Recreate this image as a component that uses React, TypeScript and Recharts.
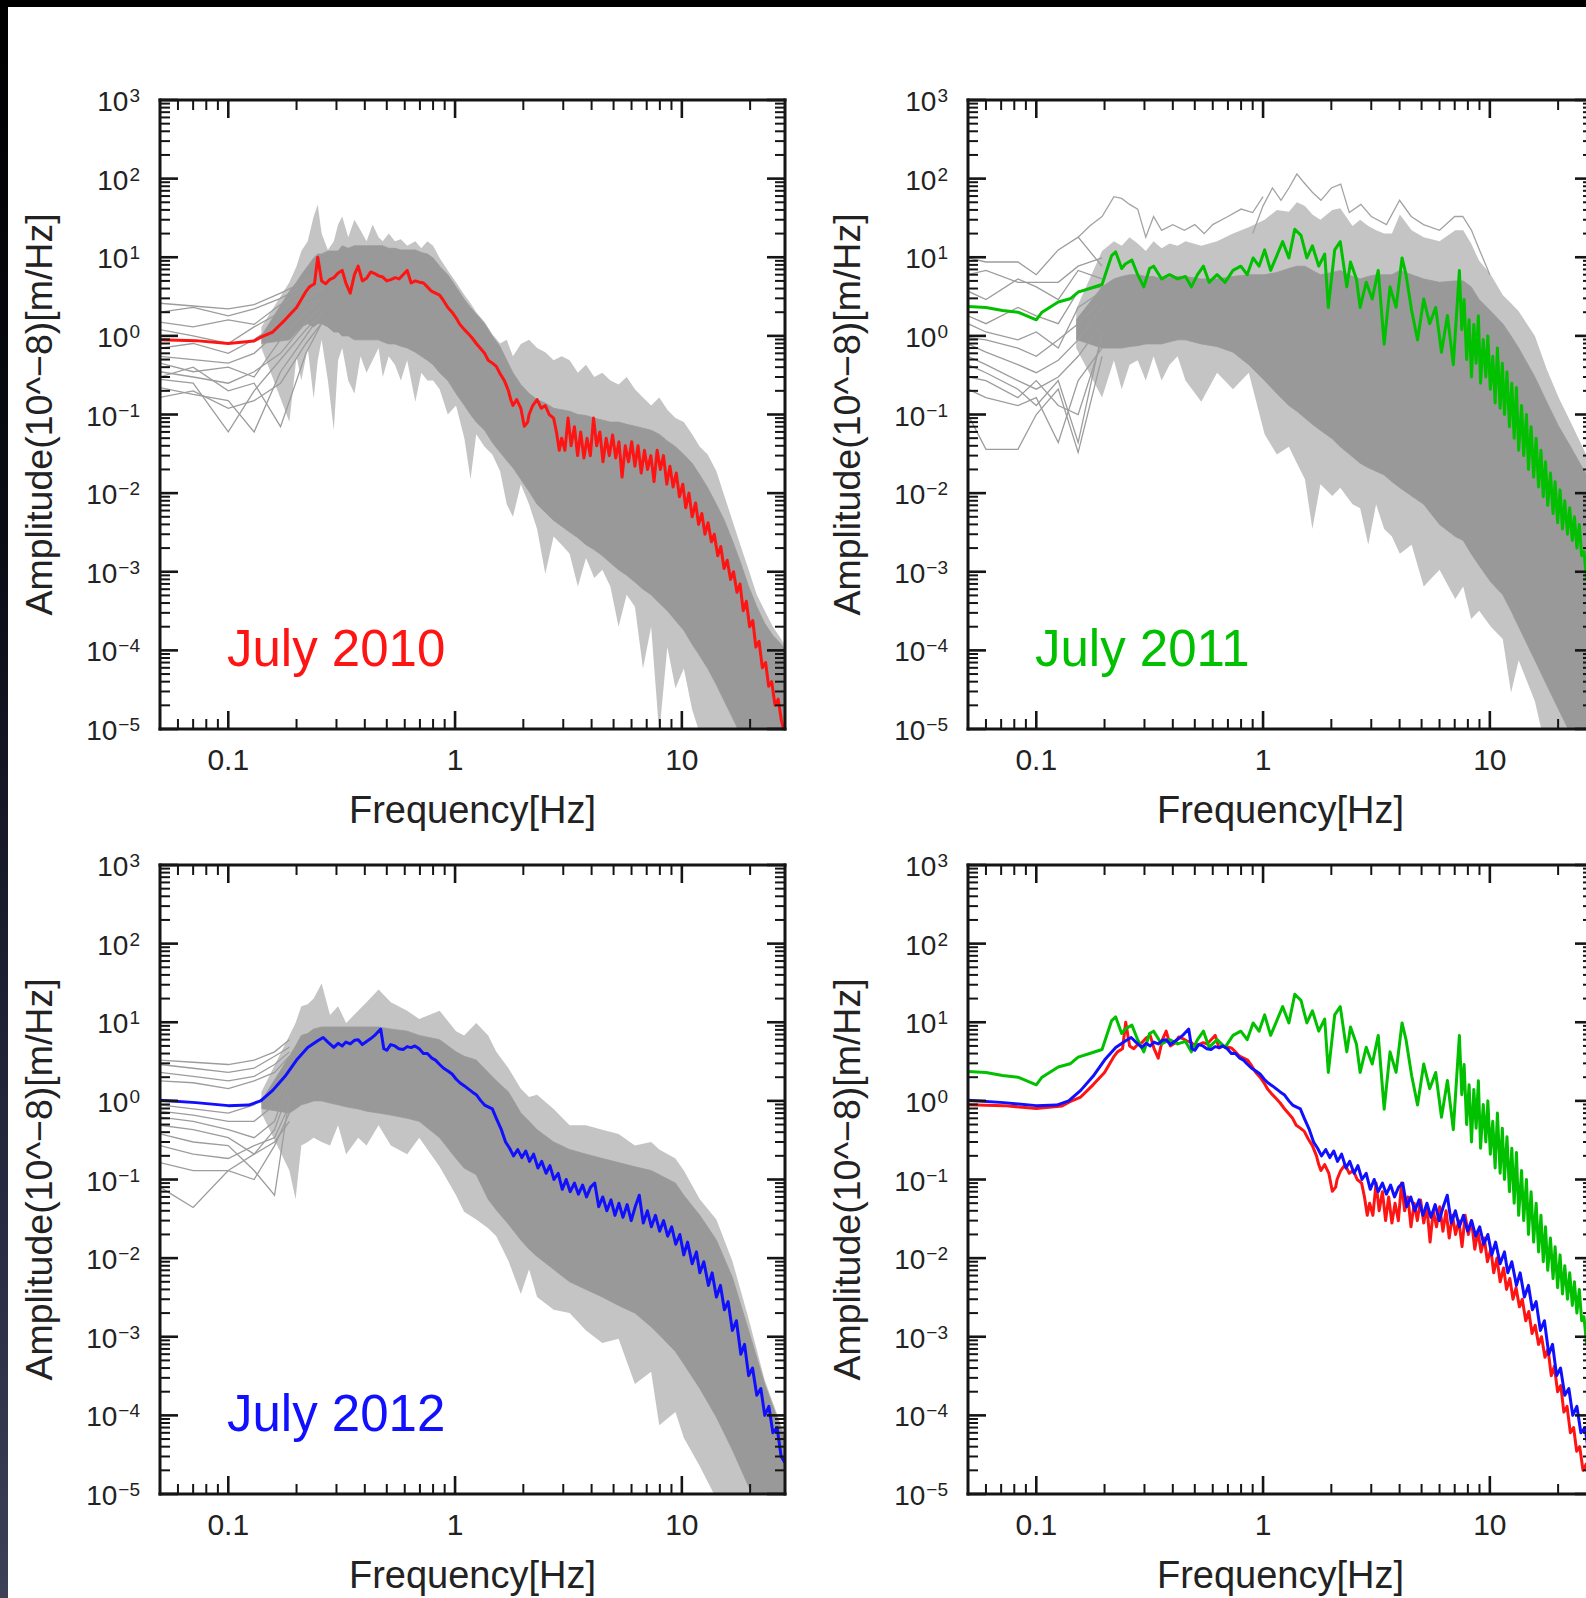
import React from 'react';
import { ComposedChart, Line, Area, XAxis, YAxis } from 'recharts';

// ---- axis ticks ----
const xMajor = [0.1, 1, 10];
const xTicks = [0.06, 0.07, 0.08, 0.09, 0.1, 0.2, 0.3, 0.4, 0.5, 0.6, 0.7, 0.8, 0.9, 1, 2, 3, 4, 5, 6, 7, 8, 9, 10, 20];
const yDecades = [1e-5, 1e-4, 1e-3, 1e-2, 1e-1, 1, 10, 100, 1000];
const yMinorSteps = [2, 3, 4, 5, 6, 7, 8, 9];
const yTicks = yDecades.flatMap((d, i) => (i < yDecades.length - 1 ? [d, ...yMinorSteps.map((m) => m * d)] : [d]));

// ---- July 2010 (red) : [Hz, amplitude] ----
const red2010 = [
  [0.05, 0.89], [0.072, 0.87], [0.1, 0.8], [0.13, 0.86], [0.14, 0.97], [0.157, 1.12], [0.178, 1.6], [0.2, 2.3],
  [0.219, 3.6], [0.228, 4.2], [0.24, 4.6], [0.248, 10], [0.258, 5.0], [0.269, 4.6], [0.28, 5.2], [0.292, 5.5],
  [0.305, 6.3], [0.318, 6.8], [0.33, 4.7], [0.345, 3.5], [0.36, 6.0], [0.374, 7.7], [0.39, 5.0], [0.407, 5.4],
  [0.425, 6.5], [0.442, 6.2], [0.46, 5.8], [0.48, 5.6], [0.5, 5.0], [0.521, 5.2], [0.545, 5.5], [0.566, 5.3],
  [0.59, 6.0], [0.615, 6.8], [0.64, 4.7], [0.668, 5.0], [0.7, 4.8], [0.726, 4.7], [0.755, 4.2], [0.787, 3.7],
  [0.82, 3.5], [0.855, 3.3], [0.89, 2.8], [0.929, 2.3], [0.97, 2.0], [1.01, 1.7], [1.05, 1.4], [1.1, 1.2],
  [1.15, 1.05], [1.19, 0.94], [1.24, 0.8], [1.29, 0.7], [1.35, 0.6], [1.4, 0.49], [1.46, 0.45], [1.52, 0.41],
  [1.58, 0.33], [1.65, 0.27], [1.72, 0.2], [1.76, 0.155], [1.8, 0.13], [1.87, 0.155], [1.95, 0.12], [2.02, 0.071],
  [2.09, 0.08], [2.12, 0.1], [2.2, 0.13], [2.3, 0.155], [2.4, 0.12], [2.5, 0.13], [2.6, 0.1], [2.72, 0.09],
  [2.8, 0.06], [2.88, 0.035], [2.95, 0.05], [3.05, 0.035], [3.15, 0.09], [3.25, 0.04], [3.36, 0.07], [3.47, 0.03],
  [3.58, 0.06], [3.7, 0.028], [3.82, 0.05], [3.95, 0.03], [4.08, 0.09], [4.21, 0.04], [4.35, 0.06], [4.49, 0.025],
  [4.64, 0.05], [4.79, 0.03], [4.95, 0.055], [5.11, 0.028], [5.28, 0.045], [5.45, 0.016], [5.63, 0.04], [5.82, 0.025],
  [6.01, 0.045], [6.21, 0.022], [6.41, 0.04], [6.62, 0.018], [6.84, 0.035], [7.06, 0.02], [7.3, 0.03], [7.54, 0.014],
  [7.78, 0.035], [8.04, 0.02], [8.3, 0.03], [8.58, 0.013], [8.86, 0.022], [9.15, 0.012], [9.45, 0.018], [9.76, 0.009],
  [10.1, 0.013], [10.4, 0.0065], [10.75, 0.01], [11.1, 0.005], [11.5, 0.0075], [11.85, 0.004], [12.25, 0.0055],
  [12.65, 0.003], [13.05, 0.0042], [13.5, 0.0024], [13.9, 0.003], [14.4, 0.0016], [14.85, 0.0021], [15.35, 0.0011],
  [15.85, 0.0014], [16.4, 0.0008], [16.9, 0.001], [17.5, 0.00055], [18.05, 0.0007], [18.65, 0.00032], [19.25, 0.00042],
  [19.9, 0.0002], [20.55, 0.00024], [21.2, 0.00011], [21.9, 0.00013], [22.65, 0.00006], [23.4, 0.00007],
  [24.15, 0.000035], [24.9, 0.00004], [25.75, 0.00002], [26.6, 0.000024], [27.45, 0.000013], [28.35, 0.000009],
];

// ---- July 2011 (green) ----
const green2011 = [
  [0.05, 2.37], [0.06, 2.3], [0.071, 2.1], [0.083, 2.0], [0.1, 1.6], [0.106, 2.0], [0.125, 2.7], [0.141, 2.96],
  [0.153, 3.6], [0.172, 4.0], [0.195, 4.5], [0.215, 10.5], [0.224, 11.7], [0.238, 7.2], [0.247, 8.2], [0.264, 9.2],
  [0.28, 6.0], [0.298, 4.2], [0.316, 7.2], [0.329, 7.7], [0.357, 5.3], [0.387, 6.0], [0.42, 5.3], [0.455, 5.7],
  [0.483, 4.2], [0.514, 6.0], [0.546, 7.7], [0.578, 4.8], [0.627, 6.0], [0.68, 4.8], [0.737, 6.8], [0.798, 7.7],
  [0.851, 6.0], [0.904, 9.8], [0.96, 7.7], [1.016, 12.4], [1.08, 6.8], [1.15, 10.5], [1.22, 15.8], [1.3, 9.8],
  [1.38, 22.7], [1.47, 19], [1.56, 9.8], [1.65, 14], [1.76, 7.7], [1.87, 11], [1.94, 2.3], [2.07, 12.4],
  [2.19, 15.8], [2.34, 4.2], [2.43, 8.7], [2.58, 5.3], [2.68, 2.3], [2.85, 4.8], [3.03, 2.94], [3.22, 6.8],
  [3.42, 0.785], [3.63, 4.2], [3.86, 2.3], [4.1, 9.8], [4.27, 6.0], [4.52, 2.1], [4.8, 0.885], [5.11, 2.94],
  [5.43, 1.43], [5.77, 2.3], [6.12, 0.62], [6.5, 1.82], [6.9, 0.43], [7.34, 6.8], [7.52, 1.2], [7.7, 2.9],
  [7.9, 0.5], [8.1, 1.6], [8.3, 0.3], [8.5, 1.4], [8.7, 0.45], [8.9, 1.8], [9.1, 0.25], [9.35, 0.9], [9.6, 0.3],
  [9.8, 1.0], [10.05, 0.21], [10.3, 0.55], [10.55, 0.14], [10.8, 0.7], [11.1, 0.12], [11.35, 0.45], [11.6, 0.1],
  [11.9, 0.35], [12.2, 0.07], [12.5, 0.25], [12.8, 0.05], [13.1, 0.22], [13.4, 0.035], [13.8, 0.13], [14.1, 0.03],
  [14.5, 0.1], [14.8, 0.02], [15.2, 0.07], [15.6, 0.016], [16.0, 0.05], [16.4, 0.012], [16.8, 0.035], [17.2, 0.009],
  [17.6, 0.025], [18.0, 0.007], [18.5, 0.018], [19.0, 0.0055], [19.4, 0.014], [19.9, 0.0042], [20.4, 0.011],
  [20.9, 0.0035], [21.4, 0.008], [22.0, 0.003], [22.5, 0.0065], [23.1, 0.0025], [23.6, 0.005], [24.2, 0.002],
  [24.8, 0.004], [25.4, 0.0016], [26.0, 0.0018], [26.7, 0.0008], [27.3, 0.0013], [28.0, 0.0006], [28.7, 0.0009],
];

// ---- July 2012 (blue) ----
const blue2012 = [
  [0.05, 1.02], [0.072, 0.95], [0.1, 0.87], [0.123, 0.885], [0.139, 1.0], [0.157, 1.36], [0.178, 2.05], [0.2, 3.3],
  [0.224, 4.76], [0.248, 5.8], [0.262, 6.4], [0.275, 5.6], [0.292, 4.8], [0.305, 5.4], [0.318, 5.0], [0.33, 5.6],
  [0.345, 5.3], [0.36, 5.9], [0.374, 6.0], [0.39, 5.2], [0.407, 5.7], [0.425, 6.2], [0.442, 6.8], [0.47, 8.2],
  [0.485, 4.6], [0.5, 4.4], [0.52, 5.2], [0.543, 5.0], [0.565, 4.6], [0.59, 4.5], [0.615, 4.9], [0.64, 4.76],
  [0.665, 5.0], [0.695, 4.6], [0.725, 4.0], [0.755, 4.0], [0.79, 3.5], [0.82, 3.3], [0.855, 2.9], [0.89, 2.6],
  [0.93, 2.4], [0.97, 2.2], [1.01, 1.9], [1.05, 1.7], [1.1, 1.55], [1.14, 1.43], [1.19, 1.3], [1.24, 1.2],
  [1.3, 1.0], [1.35, 0.885], [1.4, 0.84], [1.46, 0.79], [1.52, 0.6], [1.6, 0.43], [1.67, 0.3], [1.74, 0.25],
  [1.81, 0.2], [1.89, 0.24], [1.97, 0.19], [2.05, 0.23], [2.13, 0.17], [2.22, 0.21], [2.32, 0.14], [2.41, 0.17],
  [2.52, 0.12], [2.62, 0.15], [2.73, 0.1], [2.85, 0.12], [2.97, 0.075], [3.09, 0.1], [3.22, 0.07], [3.36, 0.09],
  [3.5, 0.065], [3.65, 0.085], [3.8, 0.06], [3.96, 0.08], [4.13, 0.09], [4.3, 0.045], [4.48, 0.06], [4.67, 0.04],
  [4.87, 0.055], [5.07, 0.035], [5.28, 0.05], [5.5, 0.033], [5.74, 0.048], [5.98, 0.03], [6.23, 0.045],
  [6.49, 0.063], [6.76, 0.028], [7.05, 0.04], [7.34, 0.025], [7.65, 0.035], [7.98, 0.022], [8.31, 0.03],
  [8.66, 0.019], [9.02, 0.025], [9.4, 0.015], [9.8, 0.02], [10.2, 0.011], [10.6, 0.016], [11.1, 0.0085],
  [11.6, 0.012], [12.0, 0.0065], [12.5, 0.009], [13.1, 0.0045], [13.6, 0.0065], [14.2, 0.0032], [14.8, 0.0045],
  [15.4, 0.0022], [16.0, 0.0028], [16.7, 0.0012], [17.4, 0.0016], [18.2, 0.0006], [18.9, 0.0008], [19.7, 0.00032],
  [20.5, 0.0004], [21.4, 0.00018], [22.3, 0.00022], [23.2, 0.0001], [24.2, 0.00013], [25.2, 0.00006],
  [26.3, 0.00007], [27.4, 0.00003], [28.5, 0.000025],
];

// ---- grey ensemble: band rows [Hz, outerLow, coreLow, coreHigh, outerHigh] ----
const band2010 = [
  [0.14, 0.7, 0.8, 1.0, 1.3],
  [0.186, 0.08, 0.89, 3.7, 4.8], [0.2, 0.55, 1.12, 4.8, 7.7], [0.21, 0.27, 1.3, 6.0, 12], [0.224, 0.7, 1.43, 7.7, 16],
  [0.238, 0.16, 1.3, 9.8, 33], [0.248, 0.49, 1.43, 11, 47], [0.258, 0.89, 1.43, 11, 20], [0.275, 0.27, 1.3, 12, 12.4],
  [0.292, 0.063, 1.12, 12, 16], [0.305, 0.49, 1.12, 12, 26], [0.318, 0.7, 1.0, 14, 33], [0.338, 0.27, 1.0, 13, 18],
  [0.36, 0.185, 0.89, 14, 30], [0.383, 0.55, 0.89, 14, 22], [0.407, 0.34, 0.89, 14, 16], [0.433, 0.49, 0.89, 14, 26],
  [0.46, 0.7, 0.89, 14, 18], [0.48, 0.3, 0.84, 14, 16], [0.51, 0.55, 0.79, 13, 20], [0.543, 0.43, 0.79, 13, 16],
  [0.577, 0.27, 0.74, 12.4, 17], [0.615, 0.49, 0.7, 12.4, 14], [0.668, 0.145, 0.62, 12.4, 16], [0.71, 0.34, 0.55, 11.5, 13],
  [0.755, 0.27, 0.49, 11, 16], [0.8, 0.27, 0.43, 9.8, 14], [0.855, 0.21, 0.34, 7.7, 9.8], [0.929, 0.1, 0.27, 6.0, 6.8],
  [1.01, 0.13, 0.185, 4.2, 4.8], [1.1, 0.049, 0.13, 2.9, 3.3], [1.17, 0.015, 0.1, 2.3, 2.6], [1.24, 0.056, 0.08, 1.9, 2.0],
  [1.35, 0.039, 0.063, 1.43, 1.5], [1.46, 0.031, 0.044, 1.0, 1.05], [1.58, 0.019, 0.033, 0.73, 0.8],
  [1.69, 0.0072, 0.026, 0.49, 0.89], [1.8, 0.005, 0.021, 0.34, 0.55], [1.95, 0.013, 0.015, 0.24, 0.79],
  [2.12, 0.0072, 0.0105, 0.185, 0.89], [2.3, 0.0035, 0.0072, 0.155, 0.7], [2.5, 0.00094, 0.0057, 0.14, 0.62],
  [2.72, 0.0028, 0.0045, 0.12, 0.49], [2.95, 0.0022, 0.0038, 0.115, 0.55], [3.2, 0.0017, 0.0032, 0.11, 0.49],
  [3.48, 0.00065, 0.0027, 0.1, 0.34], [3.78, 0.0015, 0.0022, 0.097, 0.43], [4.11, 0.00083, 0.0019, 0.09, 0.3],
  [4.46, 0.00106, 0.0016, 0.085, 0.34], [4.84, 0.00065, 0.0013, 0.08, 0.27], [5.26, 0.0002, 0.00106, 0.08, 0.24],
  [5.71, 0.00051, 0.0009, 0.075, 0.3], [6.21, 0.00036, 0.00074, 0.071, 0.21], [6.74, 0.000059, 0.0006, 0.067, 0.164],
  [7.32, 0.0002, 0.00051, 0.063, 0.13], [7.95, 0.0000087, 0.0004, 0.056, 0.164], [8.63, 0.00011, 0.00032, 0.046, 0.115],
  [9.37, 0.000033, 0.00024, 0.039, 0.09], [10.2, 0.000059, 0.00018, 0.031, 0.08], [11.1, 0.0000177, 0.00012, 0.024, 0.056],
  [12.0, 0.0000087, 0.000085, 0.017, 0.039], [13.0, 0.000005, 0.000059, 0.0117, 0.031], [14.2, 0.000005, 0.0000365, 0.0072, 0.019],
  [15.4, 0.000005, 0.0000226, 0.0045, 0.0092], [16.7, 0.000005, 0.000014, 0.0025, 0.0045], [18.1, 0.000005, 0.0000087, 0.00134, 0.0022],
  [19.7, 0.000005, 0.000005, 0.00065, 0.00106], [21.4, 0.000005, 0.000005, 0.00036, 0.00051], [23.2, 0.000005, 0.000005, 0.00022, 0.00032],
  [25.2, 0.000005, 0.000005, 0.000155, 0.0002], [27.4, 0.000005, 0.000005, 0.00012, 0.00014], [29.7, 0.000005, 0.000005, 0.000085, 0.000095],
];

const band2011 = [
  [0.15, 0.7, 0.9, 1.6, 2.2],
  [0.195, 0.164, 0.7, 4.2, 12], [0.22, 0.49, 0.7, 5.3, 16], [0.238, 0.21, 0.7, 5.7, 14], [0.258, 0.43, 0.73, 6.0, 18],
  [0.28, 0.49, 0.75, 6.0, 15], [0.304, 0.27, 0.79, 5.7, 12], [0.329, 0.55, 0.79, 5.7, 16], [0.357, 0.27, 0.79, 5.3, 13],
  [0.387, 0.43, 0.84, 5.5, 15], [0.42, 0.55, 0.89, 5.7, 14], [0.455, 0.27, 0.89, 5.7, 16], [0.534, 0.145, 0.79, 5.3, 14],
  [0.627, 0.34, 0.73, 5.3, 16], [0.737, 0.21, 0.62, 5.7, 20], [0.865, 0.34, 0.43, 6.0, 24], [1.016, 0.056, 0.27, 6.0, 30],
  [1.15, 0.031, 0.185, 6.4, 40], [1.3, 0.039, 0.13, 7.2, 38], [1.41, 0.024, 0.11, 7.7, 50], [1.53, 0.015, 0.09, 7.7, 45],
  [1.65, 0.0035, 0.075, 6.8, 35], [1.79, 0.013, 0.063, 6.0, 30], [2.02, 0.0092, 0.049, 6.4, 40], [2.19, 0.0117, 0.039, 6.8, 42],
  [2.48, 0.0072, 0.029, 5.7, 25], [2.68, 0.0064, 0.024, 5.3, 30], [2.91, 0.0022, 0.021, 5.7, 25], [3.15, 0.0072, 0.019, 6.0, 22],
  [3.42, 0.0035, 0.017, 6.0, 20], [3.7, 0.0028, 0.014, 6.0, 20], [4.01, 0.0017, 0.0117, 6.8, 35], [4.52, 0.0022, 0.0092, 6.0, 22],
  [5.11, 0.00065, 0.0072, 5.3, 18], [6.0, 0.00106, 0.004, 4.8, 16], [7.04, 0.00045, 0.0028, 5.0, 22], [7.63, 0.00065, 0.0025, 5.0, 22],
  [8.27, 0.00025, 0.0017, 4.2, 15], [8.97, 0.00032, 0.0012, 2.9, 9], [10.1, 0.0002, 0.00074, 2.05, 6.0],
  [11.4, 0.00014, 0.00051, 1.43, 3.3], [12.4, 0.000029, 0.00032, 1.0, 2.6], [13.4, 0.000075, 0.0002, 0.7, 2.05],
  [15.8, 0.0000226, 0.000075, 0.3, 1.0], [17.8, 0.000005, 0.0000365, 0.145, 0.38], [20.1, 0.000005, 0.0000177, 0.071, 0.164],
  [22.7, 0.000005, 0.0000087, 0.039, 0.08], [25.6, 0.000005, 0.000005, 0.021, 0.039], [28.8, 0.000005, 0.000005, 0.0117, 0.019],
];

const band2012 = [
  [0.14, 0.7, 0.8, 1.0, 1.3],
  [0.186, 0.13, 0.7, 3.7, 6.8], [0.198, 0.056, 0.79, 5.0, 9.8], [0.21, 0.27, 0.89, 6.8, 16], [0.224, 0.3, 0.94, 7.2, 17],
  [0.238, 0.34, 1.0, 8.2, 20], [0.258, 0.3, 1.0, 8.7, 31], [0.281, 0.27, 0.94, 8.7, 12.4], [0.305, 0.49, 0.89, 8.7, 16],
  [0.331, 0.21, 0.84, 8.7, 9.8], [0.374, 0.34, 0.79, 8.7, 14], [0.407, 0.27, 0.74, 8.7, 18], [0.46, 0.49, 0.7, 8.7, 26],
  [0.521, 0.27, 0.66, 8.2, 18], [0.615, 0.21, 0.6, 7.7, 14], [0.695, 0.34, 0.55, 6.8, 11], [0.855, 0.145, 0.34, 6.0, 14],
  [1.01, 0.063, 0.185, 4.2, 7.7], [1.096, 0.039, 0.14, 3.7, 6.8], [1.24, 0.031, 0.115, 3.3, 9.8], [1.4, 0.024, 0.056, 2.3, 6.8],
  [1.52, 0.019, 0.041, 1.8, 4.2], [1.72, 0.0092, 0.027, 1.3, 2.6], [1.95, 0.0035, 0.017, 0.7, 1.43], [2.12, 0.0072, 0.013, 0.55, 1.12],
  [2.3, 0.0032, 0.0105, 0.43, 1.2], [2.72, 0.0022, 0.0072, 0.3, 0.79], [3.2, 0.002, 0.005, 0.24, 0.49], [3.78, 0.0012, 0.004, 0.21, 0.49],
  [4.46, 0.00083, 0.0032, 0.185, 0.43], [5.26, 0.00094, 0.0025, 0.164, 0.38], [6.21, 0.00025, 0.002, 0.145, 0.27],
  [7.32, 0.00036, 0.00134, 0.13, 0.3], [7.95, 0.000075, 0.00106, 0.115, 0.24], [9.37, 0.00011, 0.00065, 0.09, 0.185],
  [10.2, 0.000052, 0.00045, 0.063, 0.13], [12.0, 0.0000226, 0.00022, 0.035, 0.056], [14.2, 0.0000087, 0.000095, 0.017, 0.031],
  [16.7, 0.000005, 0.0000365, 0.0057, 0.0092], [19.7, 0.000005, 0.0000125, 0.0012, 0.0017], [23.2, 0.000005, 0.000005, 0.00025, 0.00028],
  [27.4, 0.000005, 0.000005, 0.000067, 0.000075], [29.7, 0.000005, 0.000005, 0.0000365, 0.000041],
];

// ---- individual grey traces at low frequency ----
const greyFreq2010 = [0.05, 0.07, 0.1, 0.13, 0.17, 0.22, 0.26];
const grey2010 = [
  [2.6, 2.4, 2.2, 2.5, 3.5, 5, 6], [2.0, 2.3, 1.8, 2.2, 3.0, 4.5, 5], [1.5, 1.3, 1.6, 1.4, 2.5, 4, 5],
  [1.2, 1.0, 0.8, 1.3, 2.0, 3.5, 4], [0.7, 0.8, 0.6, 0.9, 1.5, 3, 4], [0.55, 0.5, 0.45, 0.6, 1.2, 2.5, 3],
  [0.45, 0.35, 0.4, 0.3, 0.9, 2, 3], [0.35, 0.3, 0.25, 0.35, 0.6, 1.5, 2.5], [0.28, 0.25, 0.06, 0.2, 0.5, 1.2, 2],
  [0.22, 0.18, 0.15, 0.06, 0.35, 1.0, 2], [0.165, 0.2, 0.12, 0.15, 0.25, 0.8, 1.5], [0.3, 0.4, 0.2, 0.25, 0.07, 0.6, 1.5],
];
const greyFreq2011 = [0.05, 0.06, 0.083, 0.1, 0.125, 0.153, 0.195];
const grey2011 = [
  [9.8, 8.7, 8.7, 6.0, 12.4, 18, 7.7], [6.0, 6.8, 4.8, 4.8, 4.8, 7.7, 9.8], [3.7, 2.9, 5.3, 4.2, 2.9, 6.8, 5.3],
  [1.8, 1.43, 2.3, 1.8, 1.43, 3.7, 4.2], [1.43, 1.12, 0.89, 1.12, 0.7, 2.3, 3.7], [0.95, 0.89, 0.7, 0.55, 0.89, 1.43, 2.9],
  [0.79, 0.62, 0.43, 0.34, 0.49, 0.89, 2.3], [0.55, 0.43, 0.27, 0.21, 0.3, 0.55, 1.43], [0.43, 0.34, 0.21, 0.13, 0.27, 0.044, 1.12],
  [0.3, 0.27, 0.164, 0.27, 0.13, 0.1, 0.89], [0.21, 0.164, 0.13, 0.164, 0.044, 0.27, 0.7], [0.1, 0.036, 0.036, 0.1, 0.21, 0.033, 0.55],
];
// the few 2011 traces that rise well above the ensemble
const greyHigh2011 = [
  [[0.153, 18], [0.172, 25], [0.195, 33], [0.22, 59], [0.238, 56], [0.258, 47], [0.28, 41], [0.304, 18], [0.329, 33],
    [0.357, 22], [0.4, 26], [0.45, 22], [0.5, 26], [0.55, 20], [0.6, 26], [0.7, 33], [0.8, 41], [0.9, 37], [1.0, 59]],
  [[0.9, 20], [1.0, 45], [1.1, 76], [1.2, 53], [1.3, 76], [1.41, 115], [1.5, 92], [1.65, 67], [1.8, 53], [2.0, 76],
    [2.2, 85], [2.4, 37], [2.7, 47], [3.0, 33], [3.5, 26], [4.0, 53], [4.5, 33], [5.1, 26], [6.0, 22], [7.0, 33],
    [7.6, 33], [8.3, 22], [9.0, 12.4], [10, 6]],
];
const greyFreq2012 = [0.05, 0.07, 0.1, 0.13, 0.16, 0.186];
const grey2012 = [
  [3.3, 3.1, 2.9, 3.3, 4.2, 6.0], [2.9, 2.6, 2.3, 2.6, 3.7, 4.8], [2.3, 2.05, 1.8, 2.05, 2.9, 4.2],
  [1.8, 1.7, 1.43, 1.8, 2.3, 3.7], [0.89, 0.79, 0.7, 0.89, 1.43, 2.9], [0.74, 0.66, 0.55, 0.55, 0.89, 2.3],
  [0.62, 0.55, 0.43, 0.34, 0.55, 1.8], [0.49, 0.43, 0.34, 0.21, 0.43, 1.43], [0.38, 0.3, 0.27, 0.13, 0.063, 1.12],
  [0.27, 0.21, 0.185, 0.27, 0.34, 0.89], [0.164, 0.13, 0.13, 0.1, 0.27, 0.7], [0.08, 0.044, 0.13, 0.21, 0.3, 0.55],
];

const RED = '#ff1414';
const GREEN = '#00c000';
const BLUE = '#1010ff';
const FONT = '"Liberation Sans", Arial, Helvetica, sans-serif';
const INK = '#151515';
const TEXT = '#222';

const toPts = (rows: number[][]) => rows.map(([f, a]) => ({ f, a }));
const supText = (v: number) => {
  const e = Math.round(Math.log10(v));
  return e < 0 ? `\u2212${-e}` : `${e}`;
};

const BottomTick = ({ x, y, payload }: any) => {
  const major = xMajor.includes(payload.value);
  return (
    <g>
      <line x1={x} x2={x} y1={y} y2={y - (major ? 18 : 10)} stroke={INK} strokeWidth={major ? 2.6 : 2} />
      {major && (
        <text x={x} y={y + 41} textAnchor="middle" fontSize={30} fill={TEXT} fontFamily={FONT}>
          {String(payload.value)}
        </text>
      )}
    </g>
  );
};
const TopTick = ({ x, y, payload }: any) => {
  const major = xMajor.includes(payload.value);
  return <line x1={x} x2={x} y1={y} y2={y + (major ? 18 : 10)} stroke={INK} strokeWidth={major ? 2.6 : 2} />;
};
const LeftTick = ({ x, y, payload }: any) => {
  const major = yDecades.includes(payload.value);
  return (
    <g>
      <line x1={x} x2={x + (major ? 18 : 10)} y1={y} y2={y} stroke={INK} strokeWidth={major ? 2.6 : 2} />
      {major && (
        <text x={x - 20} y={y + 11} textAnchor="end" fill={TEXT} fontFamily={FONT}>
          <tspan fontSize={28}>10</tspan>
          <tspan fontSize={19} dx={1} dy={-9}>{supText(payload.value)}</tspan>
        </text>
      )}
    </g>
  );
};
const RightTick = ({ x, y, payload }: any) => {
  const major = yDecades.includes(payload.value);
  return <line x1={x} x2={x - (major ? 18 : 10)} y1={y} y2={y} stroke={INK} strokeWidth={major ? 2.6 : 2} />;
};

const frame = { stroke: INK, strokeWidth: 3, strokeLinecap: 'square' as const };
// keeps the top / right frame axes bound to a series; sits far below the visible range
const anchorPts = [{ f: 1, a: 1e-9 }, { f: 2, a: 1e-9 }];

interface PanelProps {
  left: number;
  top: number;
  band?: number[][];
  greyFreqs?: number[];
  greyLines?: number[][];
  greyTraces?: number[][][];
  lines: { name: string; color: string; data: number[][] }[];
}

const Panel = ({ left, top, band, greyFreqs, greyLines, greyTraces, lines }: PanelProps) => {
  const bandData = band ? band.map(([f, oLo, cLo, cHi, oHi]) => ({ f, outer: [oLo, oHi], core: [cLo, cHi] })) : [];
  const greys = greyLines && greyFreqs ? greyLines.map((vals) => vals.map((a, i) => ({ f: greyFreqs[i], a }))) : [];
  const traces = greyTraces ? greyTraces.map(toPts) : [];
  return (
    <div style={{ position: 'absolute', left, top }}>
      <ComposedChart width={800} height={850} margin={{ top: 99, right: 14, bottom: 11, left: 0 }}>
        <XAxis xAxisId="b" dataKey="f" type="number" scale="log" domain={[0.05, 28.5]} allowDataOverflow
          ticks={xTicks} interval={0} tickSize={0} tickMargin={0} tickLine={false} height={110}
          axisLine={frame} tick={(p: any) => <BottomTick {...p} />} />
        <XAxis xAxisId="t" orientation="top" dataKey="f" type="number" scale="log" domain={[0.05, 28.5]} allowDataOverflow
          ticks={xTicks} interval={0} tickSize={0} tickMargin={0} tickLine={false} height={1}
          axisLine={frame} tick={(p: any) => <TopTick {...p} />} />
        <YAxis yAxisId="l" type="number" scale="log" domain={[1e-5, 1e3]} allowDataOverflow
          ticks={yTicks} interval={0} tickSize={0} tickMargin={0} tickLine={false} width={160}
          axisLine={frame} tick={(p: any) => <LeftTick {...p} />} />
        <YAxis yAxisId="r" orientation="right" type="number" scale="log" domain={[1e-5, 1e3]} allowDataOverflow
          ticks={yTicks} interval={0} tickSize={0} tickMargin={0} tickLine={false} width={1}
          axisLine={frame} tick={(p: any) => <RightTick {...p} />} />
        <Line xAxisId="t" yAxisId="r" data={anchorPts} dataKey="a" stroke="none" dot={false} activeDot={false}
          isAnimationActive={false} />
        {band && (
          <Area xAxisId="b" yAxisId="l" data={bandData} dataKey="outer" type="linear" stroke="none"
            fill="#c4c4c4" fillOpacity={1} isAnimationActive={false} dot={false} activeDot={false} />
        )}
        {traces.map((d, i) => (
          <Line key={`h${i}`} xAxisId="b" yAxisId="l" data={d} dataKey="a" type="linear" stroke="#a3a3a3"
            strokeWidth={1.3} dot={false} activeDot={false} isAnimationActive={false} />
        ))}
        {greys.map((d, i) => (
          <Line key={`g${i}`} xAxisId="b" yAxisId="l" data={d} dataKey="a" type="linear" stroke="#9c9c9c"
            strokeWidth={1.3} dot={false} activeDot={false} isAnimationActive={false} />
        ))}
        {band && (
          <Area xAxisId="b" yAxisId="l" data={bandData} dataKey="core" type="linear" stroke="#999" strokeWidth={0.8}
            fill="#999999" fillOpacity={1} isAnimationActive={false} dot={false} activeDot={false} />
        )}
        {lines.map((l) => (
          <Line key={l.name} xAxisId="b" yAxisId="l" data={toPts(l.data)} dataKey="a" type="linear" stroke={l.color}
            strokeWidth={3} strokeLinejoin="round" dot={false} activeDot={false} isAnimationActive={false} />
        ))}
      </ComposedChart>
    </div>
  );
};

const panels = [
  { left: 0, top: 0, label: 'July 2010', color: RED },
  { left: 808, top: 0, label: 'July 2011', color: GREEN },
  { left: 0, top: 765, label: 'July 2012', color: BLUE },
  { left: 808, top: 765, label: '', color: '' },
];

export default function App() {
  return (
    <div style={{ position: 'fixed', left: 0, top: 0, width: 1586, height: 1598, overflow: 'hidden',
      background: 'linear-gradient(180deg, #000 0%, #0b0c16 35%, #262a40 75%, #3c4158 100%)' }}>
      <div style={{ position: 'absolute', left: 8, top: 7, width: 1578, height: 1591, background: '#fff' }} />
      <Panel left={0} top={0} band={band2010} greyFreqs={greyFreq2010} greyLines={grey2010}
        lines={[{ name: 'red', color: RED, data: red2010 }]} />
      <Panel left={808} top={0} band={band2011} greyFreqs={greyFreq2011} greyLines={grey2011} greyTraces={greyHigh2011}
        lines={[{ name: 'green', color: GREEN, data: green2011 }]} />
      <Panel left={0} top={765} band={band2012} greyFreqs={greyFreq2012} greyLines={grey2012}
        lines={[{ name: 'blue', color: BLUE, data: blue2012 }]} />
      <Panel left={808} top={765}
        lines={[
          { name: 'red', color: RED, data: red2010 },
          { name: 'green', color: GREEN, data: green2011 },
          { name: 'blue', color: BLUE, data: blue2012 },
        ]} />
      <svg width={1586} height={1598} style={{ position: 'absolute', left: 0, top: 0, pointerEvents: 'none' }}>
        {panels.map((p, i) => (
          <g key={i} fontFamily={FONT} fill={TEXT}>
            <text x={p.left + 52} y={p.top + 414.5} transform={`rotate(-90 ${p.left + 52} ${p.top + 414.5})`}
              textAnchor="middle" fontSize={37.5}>
              Amplitude(10^{'\u2212'}8)[m/Hz]
            </text>
            <text x={p.left + 472.5} y={p.top + 823} textAnchor="middle" fontSize={38}>Frequency[Hz]</text>
            {p.label && (
              <text x={p.left + 227} y={p.top + 666} fontSize={51} fill={p.color}>{p.label}</text>
            )}
          </g>
        ))}
      </svg>
    </div>
  );
}
